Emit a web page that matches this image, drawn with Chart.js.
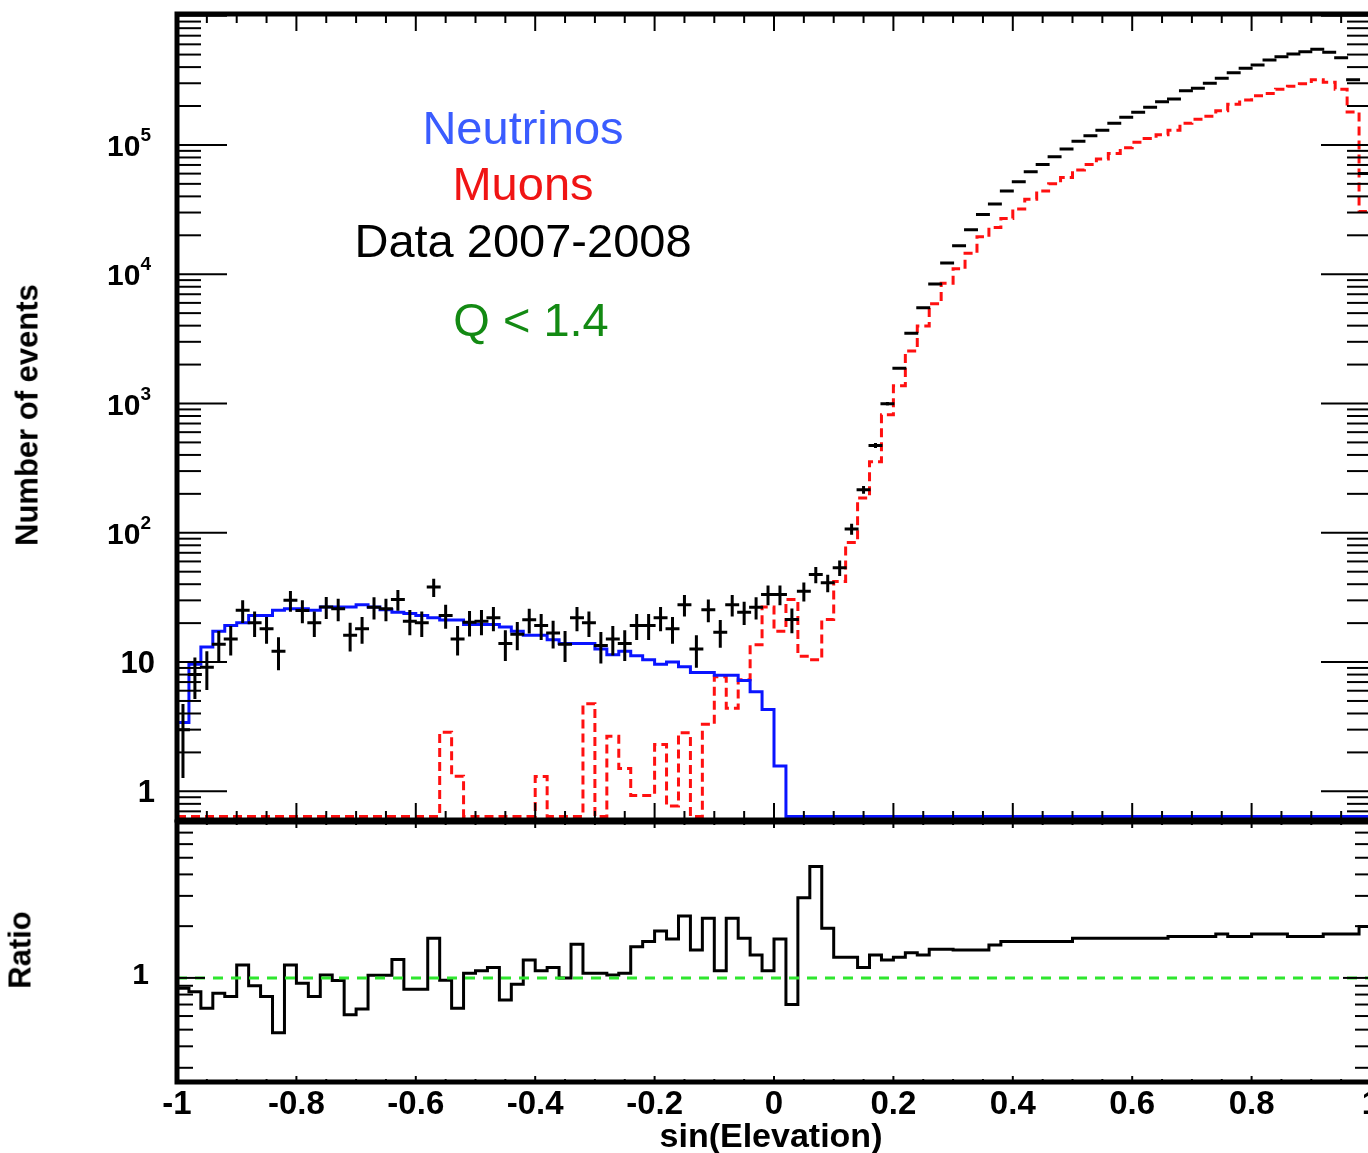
<!DOCTYPE html>
<html lang="en">
<head>
<meta charset="UTF-8">
<title>sin(Elevation) - Neutrinos / Muons / Data 2007-2008</title>
<script src="https://cdn.jsdelivr.net/npm/chart.js"></script>
<style>
  html, body { margin: 0; padding: 0; background: #fff; overflow: hidden; }
  #page { position: relative; width: 1368px; height: 1153px; overflow: hidden; background: #fff; }
  #page canvas { position: absolute; left: 0; top: 0; }
  .note { position: absolute; font-family: 'Liberation Sans', Arial, sans-serif; font-size: 47px;
          line-height: 1; white-space: nowrap; transform: translateX(-50%); }
  .title { position: absolute; font-family: 'Liberation Sans', Arial, sans-serif; font-weight: bold;
           font-size: 31px; line-height: 1; white-space: nowrap; color: #000; }
</style>
</head>
<body>
<div id="page">
  <canvas id="mainChart" width="1380" height="1153"></canvas>
  <canvas id="ratioChart" width="1380" height="1153"></canvas>

  <div class="note" style="left:523px; top:104px; color:#3a5cff;">Neutrinos</div>
  <div class="note" style="left:523px; top:160px; color:#f01414;">Muons</div>
  <div class="note" style="left:523px; top:217px; color:#000;">Data 2007-2008</div>
  <div class="note" style="left:531px; top:296px; color:#138a13;">Q &lt; 1.4</div>

  <div class="title" style="left:27px; top:415px; transform:translate(-50%,-50%) rotate(-90deg);">Number of events</div>
  <div class="title" style="left:20px; top:950px; transform:translate(-50%,-50%) rotate(-90deg);">Ratio</div>
  <div class="title" style="left:771px; top:1135px; font-size:34px; transform:translate(-50%,-50%);">sin(Elevation)</div>
</div>

<script>
// 100 bins of sin(Elevation) from -1 to 1
const binStart = -1;
const binWidth = 0.02;

// neutrino MC (blue)
const neutrinos = [
  3.4, 9.6, 13.1, 17.3, 19.2, 20.1, 22.9, 22.9, 25.1, 25.8,
  25.8, 25.1, 26.7, 26.7, 26.7, 27.8, 26.7, 25.4, 24.3, 23.7,
  22.9, 22.0, 21.1, 21.1, 19.5, 19.5, 19.5, 18.7, 17.3, 16.1,
  16.1, 14.9, 13.9, 13.9, 13.9, 12.6, 11.4, 12.1, 11.2, 10.4,
  9.6, 10.0, 9.2, 8.3, 8.3, 7.9, 7.9, 7.2, 5.9, 4.3,
  1.57, 0, 0, 0, 0, 0, 0, 0, 0, 0,
  0, 0, 0, 0, 0, 0, 0, 0, 0, 0,
  0, 0, 0, 0, 0, 0, 0, 0, 0, 0,
  0, 0, 0, 0, 0, 0, 0, 0, 0, 0,
  0, 0, 0, 0, 0, 0, 0, 0, 0, 0
];

// atmospheric muon MC (red dashed)
const muons = [
  0, 0, 0, 0, 0, 0, 0, 0, 0, 0,
  0, 0, 0, 0, 0, 0, 0, 0, 0, 0,
  0, 0, 2.87, 1.31, 0, 0, 0, 0, 0, 0,
  1.3, 0, 0, 0, 4.76, 0, 2.67, 1.5, 0.93, 0.93,
  2.3, 0.77, 2.84, 0, 3.3, 7.7, 4.4, 7.3, 13.6, 26.7,
  17.3, 30.5, 11.1, 10.4, 21.3, 42, 84, 186, 354, 820,
  1370, 2550, 3970, 5900, 8500, 11000, 14500, 19500, 23000, 27000,
  32000, 38000, 44000, 50000, 56000, 64000, 70700, 78000, 86000, 95000,
  105000, 112000, 120000, 130000, 147000, 158000, 167000, 184000, 206000, 223000,
  240000, 250000, 270000, 285000, 297000, 320000, 305000, 270000, 180000, 30500
];

// data 2007-2008 (black crosses)
const dataCounts = [
  3, 8, 9.1, 13.7, 15.1, 25.1, 20.1, 18.1, 12.1, 30,
  25, 20.1, 26.7, 25.8, 16.1, 18.1, 26.5, 25.8, 30.5, 20.7,
  20.1, 38, 22.9, 15.1, 20.3, 20.7, 22, 13.9, 16.4, 21.2,
  19.2, 16.8, 13.7, 22, 20.1, 13.4, 15.1, 13.9, 19.2, 19.2,
  22, 18.1, 27.8, 12.6, 25.4, 17, 27.8, 24.3, 26.5, 33.3,
  33.3, 21.3, 35.3, 47.5, 41, 53.6, 107, 215, 474, 995,
  1870, 3500, 5500, 8400, 12200, 16600, 22100, 29000, 35000, 44000,
  52000, 62000, 70700, 81000, 93000, 107000, 118000, 130000, 147000, 164000,
  179000, 196000, 216000, 227000, 263000, 274000, 300000, 328000, 362000, 392000,
  415000, 454000, 481000, 505000, 526000, 550000, 520000, 473000, 320000, 60000
];

// data / MC ratio (lower panel)
const ratioValues = [
  0.87, 0.83, 0.667, 0.815, 0.78, 1.19, 0.90, 0.78, 0.48, 1.19,
  0.93, 0.78, 1.04, 0.965, 0.61, 0.66, 1.036, 1.036, 1.28, 0.86,
  0.86, 1.70, 0.97, 0.667, 1.065, 1.10, 1.15, 0.745, 0.92, 1.27,
  1.10, 1.15, 1.0, 1.57, 1.065, 1.065, 1.04, 1.065, 1.52, 1.63,
  1.875, 1.685, 2.29, 1.455, 2.22, 1.10, 2.22, 1.70, 1.36, 1.10,
  1.685, 0.70, 2.93, 4.44, 1.945, 1.32, 1.32, 1.15, 1.36, 1.27,
  1.32, 1.40, 1.36, 1.47, 1.47, 1.455, 1.455, 1.455, 1.556, 1.626,
  1.626, 1.626, 1.626, 1.626, 1.626, 1.70, 1.70, 1.70, 1.70, 1.70,
  1.70, 1.70, 1.70, 1.74, 1.74, 1.74, 1.74, 1.80, 1.74, 1.74,
  1.80, 1.80, 1.80, 1.74, 1.74, 1.74, 1.80, 1.80, 1.80, 1.99
];

const referenceLine = [1, 1];   // ratio = 1

const xTickValues = [-1, -0.8, -0.6, -0.4, -0.2, 0, 0.2, 0.4, 0.6, 0.8, 1];
const xTickLabels = ['-1', '-0.8', '-0.6', '-0.4', '-0.2', '0', '0.2', '0.4', '0.6', '0.8', '1'];
const countDecades = [0, 1, 2, 3, 4, 5];
const ratioLabels = [1];

// axis ranges
const X_MIN = -1, X_MAX = 1;
const Y_MIN = 0.608, Y_MAX = 1.03e6;
const FLOOR = 0.64;          // empty bins sit on the bottom of the log axis
const R_MIN = 0.248, R_MAX = 8.07;

const FONT = "'Liberation Sans', Arial, sans-serif";

function edgeOf(i) {
    return binStart + i * binWidth;
}

// histogram outline as step points on the bin edges
function histSteps(values, floor, fromFloor) {
    const pts = [];
    if (fromFloor) pts.push({ x: edgeOf(0), y: floor });
    values.forEach((v, i) => pts.push({ x: edgeOf(i), y: v > 0 ? v : floor }));
    const last = values[values.length - 1];
    pts.push({ x: edgeOf(values.length), y: last > 0 ? last : floor });
    return pts;
}

function logTicks(min, max) {
    const out = [];
    for (let d = -2; d <= 7; d++) {
        for (let m = 1; m <= 9; m++) {
            const v = m * Math.pow(10, d);
            if (v >= min && v <= max) out.push({ v: v, major: m === 1 });
        }
    }
    return out;
}

function seg(ctx, x1, y1, x2, y2) {
    ctx.beginPath();
    ctx.moveTo(x1, y1);
    ctx.lineTo(x2, y2);
    ctx.stroke();
}

// data points drawn as ROOT-like crosses: bin width horizontally, sqrt(N) vertically
const crossPlugin = {
    id: 'crosses',
    afterDatasetsDraw(chart) {
        const { ctx, chartArea: a, scales: { x, y } } = chart;
        chart.data.datasets.forEach(ds => {
            if (!ds.crosses) return;
            ctx.save();
            ctx.beginPath();
            ctx.rect(a.left, a.top, a.right - a.left, a.bottom - a.top);
            ctx.clip();
            ctx.strokeStyle = ds.borderColor;
            ctx.lineWidth = 3;
            ds.data.forEach(p => {
                const err = Math.sqrt(p.y);
                const xl = x.getPixelForValue(p.x - binWidth / 2) - 1;
                const xr = x.getPixelForValue(p.x + binWidth / 2) + 1;
                const xc = x.getPixelForValue(p.x);
                const yc = y.getPixelForValue(p.y);
                const yh = y.getPixelForValue(p.y + err);
                const yl = y.getPixelForValue(Math.max(p.y - err, Y_MIN));
                ctx.beginPath();
                ctx.moveTo(xl, yc); ctx.lineTo(xr, yc);
                ctx.moveTo(xc, yh); ctx.lineTo(xc, yl);
                ctx.stroke();
            });
            ctx.restore();
        });
    }
};

// frame, inward ticks on all four sides and tick labels
const framePlugin = {
    id: 'rootFrame',
    afterDraw(chart, args, o) {
        const { ctx, chartArea: a, scales: { x, y } } = chart;
        ctx.save();
        ctx.strokeStyle = '#000';
        ctx.fillStyle = '#000';
        ctx.lineWidth = 2;

        for (let k = 0; k <= 40; k++) {
            const px = x.getPixelForValue(X_MIN + k * 0.05);
            const len = k % 4 === 0 ? o.xMajor : o.xMinor;
            seg(ctx, px, a.bottom, px, a.bottom - len);
            seg(ctx, px, a.top, px, a.top + len);
        }
        logTicks(y.min, y.max).forEach(t => {
            const py = y.getPixelForValue(t.v);
            const len = t.major ? o.yMajor : o.yMinor;
            seg(ctx, a.left, py, a.left + len, py);
            seg(ctx, a.right, py, a.right - len, py);
        });

        ctx.lineWidth = o.frame;
        ctx.strokeRect(a.left, a.top, a.right - a.left, a.bottom - a.top);

        ctx.textBaseline = 'middle';
        if (o.labels === 'counts') {
            countDecades.forEach(d => {
                const py = y.getPixelForValue(Math.pow(10, d));
                const right = a.left - 22;
                ctx.textAlign = 'right';
                if (d < 2) {
                    ctx.font = 'bold 31px ' + FONT;
                    ctx.fillText(String(Math.pow(10, d)), right, py + 2);
                } else {
                    ctx.font = 'bold 19px ' + FONT;
                    ctx.fillText(String(d), right - 4, py - 9);
                    const ew = ctx.measureText(String(d)).width;
                    ctx.font = 'bold 30px ' + FONT;
                    ctx.fillText('10', right - 4 - ew, py + 3);
                }
            });
        }
        if (o.labels === 'ratio') {
            ctx.font = 'bold 30px ' + FONT;
            ratioLabels.forEach(v => {
                ctx.textAlign = 'right';
                ctx.fillText(String(v), a.left - 28, y.getPixelForValue(v) - 2);
            });
            ctx.font = 'bold 33px ' + FONT;
            ctx.textBaseline = 'top';
            ctx.textAlign = 'center';
            xTickValues.forEach((v, i) => {
                ctx.fillText(xTickLabels[i], x.getPixelForValue(v), a.bottom + 6);
            });
        }
        ctx.restore();
    }
};

Chart.defaults.font.family = FONT;
Chart.defaults.animation = false;

const hiddenX = { type: 'linear', min: X_MIN, max: X_MAX, display: false };

new Chart(document.getElementById('mainChart'), {
    type: 'line',
    data: {
        datasets: [
            {
                label: 'Neutrinos',
                data: histSteps(neutrinos, FLOOR, true),
                borderColor: '#0a14ff',
                borderWidth: 3,
                stepped: 'before',
                pointRadius: 0,
                fill: false
            },
            {
                label: 'Muons',
                data: histSteps(muons, FLOOR, true),
                borderColor: '#ff1010',
                borderWidth: 3,
                borderDash: [9, 5],
                stepped: 'before',
                pointRadius: 0,
                fill: false
            },
            {
                label: 'Data 2007-2008',
                data: dataCounts.map((v, i) => ({ x: edgeOf(i) + binWidth / 2, y: v })),
                borderColor: '#000',
                showLine: false,
                pointRadius: 0,
                crosses: true
            }
        ]
    },
    options: {
        responsive: false,
        layout: { padding: { left: 177, right: 9, top: 14, bottom: 1153 - 820 } },
        scales: {
            x: hiddenX,
            y: { type: 'logarithmic', min: Y_MIN, max: Y_MAX, display: false }
        },
        plugins: {
            legend: { display: false },
            tooltip: { enabled: false },
            rootFrame: { xMajor: 17, xMinor: 9, yMajor: 50, yMinor: 24, frame: 5, labels: 'counts' }
        }
    },
    plugins: [crossPlugin, framePlugin]
});

new Chart(document.getElementById('ratioChart'), {
    type: 'line',
    data: {
        datasets: [
            {
                label: 'ratio = 1',
                data: referenceLine.map((v, i) => ({ x: i === 0 ? X_MIN : X_MAX, y: v })),
                borderColor: '#2ee62e',
                borderWidth: 3,
                borderDash: [10, 8],
                pointRadius: 0,
                fill: false
            },
            {
                label: 'Ratio',
                data: histSteps(ratioValues, R_MIN, false),
                borderColor: '#000',
                borderWidth: 3,
                stepped: 'before',
                pointRadius: 0,
                fill: false
            }
        ]
    },
    options: {
        responsive: false,
        layout: { padding: { left: 177, right: 9, top: 822, bottom: 1153 - 1082 } },
        scales: {
            x: hiddenX,
            y: { type: 'logarithmic', min: R_MIN, max: R_MAX, display: false }
        },
        plugins: {
            legend: { display: false },
            tooltip: { enabled: false },
            rootFrame: { xMajor: 6, xMinor: 3, yMajor: 28, yMinor: 16, frame: 5, labels: 'ratio' }
        }
    },
    plugins: [framePlugin]
});
</script>
</body>
</html>
